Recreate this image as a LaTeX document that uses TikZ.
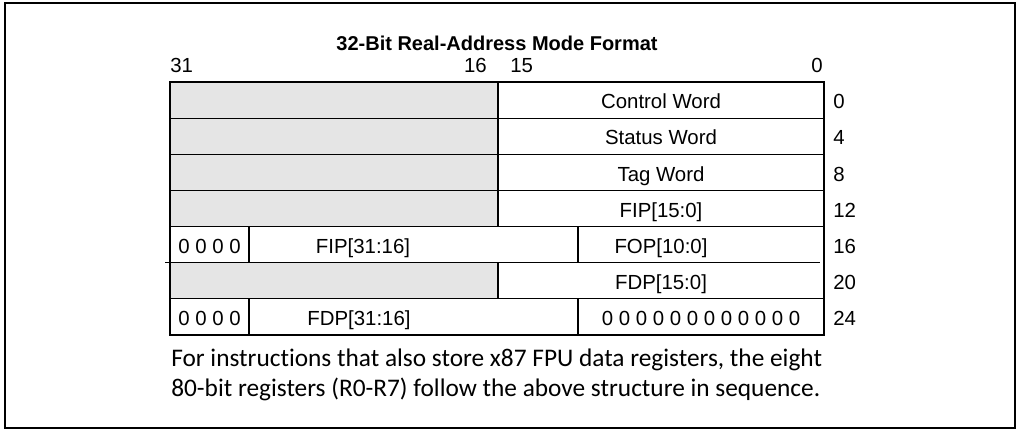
\documentclass[tikz,border=0pt]{standalone}
\usepackage{fontspec}
\setmainfont{Liberation Sans}
\newfontfamily\notefont[Ligatures=NoCommon]{Carlito}
\definecolor{resgray}{RGB}{229,229,229}
\begin{document}
\begin{tikzpicture}[x=0.75pt,y=-0.75pt,
  txt/.style={font=\fontsize{15.3}{18}\selectfont, inner sep=0pt, anchor=base},
  ttl/.style={font=\bfseries\fontsize{15}{18}\selectfont, inner sep=0pt},
  note/.style={font=\notefont\fontsize{19}{22}\selectfont, inner sep=0pt, anchor=base west},
  inner/.style={line width=0.9pt},
  outer/.style={line width=1.6pt},
  res/.style={fill=resgray}]
\useasboundingbox (0,0) rectangle (1019,431);
\draw[line width=1.3pt] (5,3) rectangle (1015,428);
% reserved (gray) areas
\fill[res] (170,82) rectangle (498,226.56);
\fill[res] (170,262.70) rectangle (498,298.84);
% horizontal inner lines
\foreach \y in {118.14,154.28,190.42,226.56,298.84}
  \draw[inner] (170,\y) -- (824,\y);
\draw[inner] (165,262.70) -- (820,262.70);
% vertical inner lines
\draw[inner] (498,82) -- (498,226.56);
\draw[inner] (498,262.70) -- (498,298.84);
\draw[inner] (249,226.56) -- (249,262.70);
\draw[inner] (578,226.56) -- (578,262.70);
\draw[inner] (249,298.84) -- (249,335);
\draw[inner] (578,298.84) -- (578,335);
% outer border
\draw[outer] (170,82) rectangle (824,335);
% title and bit numbers
\node[ttl] (title) at (497,43) {32-Bit Real-Address Mode Format};
\node[txt, anchor=base west] (b31) at (170,73) {31};
\node[txt, anchor=base east] (b16) at (487,73) {16};
\node[txt, anchor=base west] (b15) at (510,73) {15};
\node[txt, anchor=base east] (b0) at (823,73) {0};
% cell texts
\node[txt] (cw) at (661,108.8) {Control Word};
\node[txt] (sw) at (661,144.9) {Status Word};
\node[txt] (tw) at (661,181.0) {Tag Word};
\node[txt] (fipl) at (661,217.2) {FIP[15:0]};
\node[txt] (z1) at (209.5,253.3) {0 0 0 0};
\node[txt] (fiph) at (363,253.3) {FIP[31:16]};
\node[txt] (fop) at (661,253.3) {FOP[10:0]};
\node[txt] (fdpl) at (661,289.5) {FDP[15:0]};
\node[txt] (z2) at (209.5,325.6) {0 0 0 0};
\node[txt] (fdph) at (359,325.6) {FDP[31:16]};
\node[txt] (z3) at (701,325.6) {0 0 0 0 0 0 0 0 0 0 0 0};
% offsets
\node[txt, anchor=base west] (o0) at (833,108.8) {0};
\node[txt, anchor=base west] (o4) at (833,144.9) {4};
\node[txt, anchor=base west] (o8) at (833,181.0) {8};
\node[txt, anchor=base west] (o12) at (833,217.2) {12};
\node[txt, anchor=base west] (o16) at (833,253.3) {16};
\node[txt, anchor=base west] (o20) at (833,289.5) {20};
\node[txt, anchor=base west] (o24) at (833,325.6) {24};
% note
\node[note] (n1) at (171,366.5) {For instructions that also store x87 FPU data registers, the eight};
\node[note] (n2) at (171,396.5) {80-bit registers (R0-R7) follow the above structure in sequence.};
\end{tikzpicture}
\end{document}
